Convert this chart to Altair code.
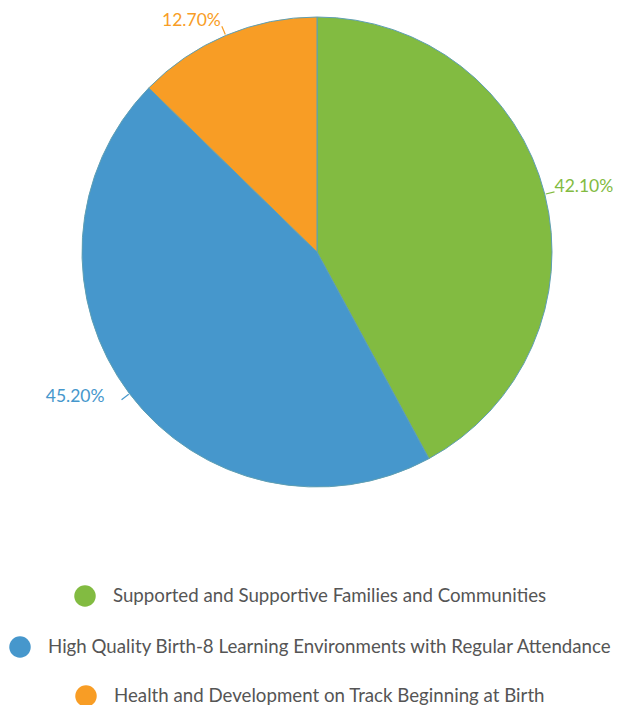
import math
import altair as alt
import pandas as pd

# ---- data ----
CATEGORIES = [
    "Supported and Supportive Families and Communities",
    "High Quality Birth-8 Learning Environments with Regular Attendance",
    "Health and Development on Track Beginning at Birth",
]
VALUES = [42.1, 45.2, 12.7]
ORDER = [1, 2, 3]

# ---- style ----
COLORS = ["#82bb41", "#4697cc", "#f89d25"]
EDGE = "#5f9fb3"
FONT = "Lato"
TEXT_GRAY = "#555555"
CX, CY, R = 309, 244, 235
# legend anchor points (top-left of each one-entry legend)
LEGEND_POS = [(66, 577), (1, 628), (67, 677)]
# per-label text style: (align, dx, dy)
LABEL_STYLE = [("left", 0, -5), ("right", -17, -3), ("right", -1, -5)]

df = pd.DataFrame({"category": CATEGORIES, "value": VALUES, "order": ORDER})

theta_scale = alt.Scale(domain=[0, 100], range=[0, 2 * math.pi])

base = alt.Chart(df).transform_window(
    cum="sum(value)", sort=[alt.SortField("order")], frame=[None, 0]
).transform_calculate(
    start="datum.cum - datum.value",
    mid="datum.cum - datum.value / 2",
    ang="(datum.cum - datum.value / 2) * 2 * PI / 100",
    label="format(datum.value, '.2f') + '%'",
)

label_color = alt.Color(
    "category:N", scale=alt.Scale(domain=CATEGORIES, range=COLORS), legend=None
)

layers = []
for cat, col, (lx, ly) in zip(CATEGORIES, COLORS, LEGEND_POS):
    layers.append(
        base.transform_filter(alt.datum.category == cat)
        .mark_arc(radius=R, stroke=EDGE, strokeWidth=1)
        .encode(
            x=alt.value(CX),
            y=alt.value(CY),
            theta=alt.Theta("start:Q", scale=theta_scale, stack=False),
            theta2="cum:Q",
            color=alt.Color(
                "category:N",
                scale=alt.Scale(domain=[cat], range=[col]),
                legend=alt.Legend(
                    orient="none",
                    legendX=lx,
                    legendY=ly,
                    title=None,
                    symbolType="circle",
                    symbolSize=462,
                    symbolStrokeWidth=0,
                    symbolOpacity=1,
                    labelFont=FONT,
                    labelFontSize=18.7,
                    labelColor=TEXT_GRAY,
                    labelOffset=17,
                    labelLimit=800,
                    padding=0,
                ),
            ),
        )
    )

connectors = base.transform_calculate(
    x1=f"{CX} + {R + 1} * sin(datum.ang)",
    y1=f"{CY} - {R + 1} * cos(datum.ang)",
    x2=f"{CX} + {R + 10} * sin(datum.ang)",
    y2=f"{CY} - {R + 10} * cos(datum.ang)",
).mark_rule(strokeWidth=1.2).encode(
    x=alt.X("x1:Q", scale=None, axis=None),
    y=alt.Y("y1:Q", scale=None, axis=None),
    x2="x2:Q",
    y2="y2:Q",
    color=label_color,
)

text_layers = []
for cat, (align, dx, dy) in zip(CATEGORIES, LABEL_STYLE):
    text_layers.append(
        base.transform_filter(alt.datum.category == cat)
        .mark_text(align=align, baseline="middle", font=FONT, fontSize=17.5, dx=dx, dy=dy)
        .encode(
            x=alt.value(CX),
            y=alt.value(CY),
            theta=alt.Theta("mid:Q", scale=theta_scale, stack=False),
            radius=alt.value(245),
            text="label:N",
            color=label_color,
        )
    )

chart = (
    alt.layer(*layers, connectors, *text_layers)
    .resolve_scale(color="independent")
    .properties(
        width=605,
        height=697,
        padding=0,
        autosize=alt.AutoSizeParams(type="none"),
    )
    .configure_view(stroke=None)
)

chart.save("out.html", embed_options={"renderer": "svg", "actions": False})
